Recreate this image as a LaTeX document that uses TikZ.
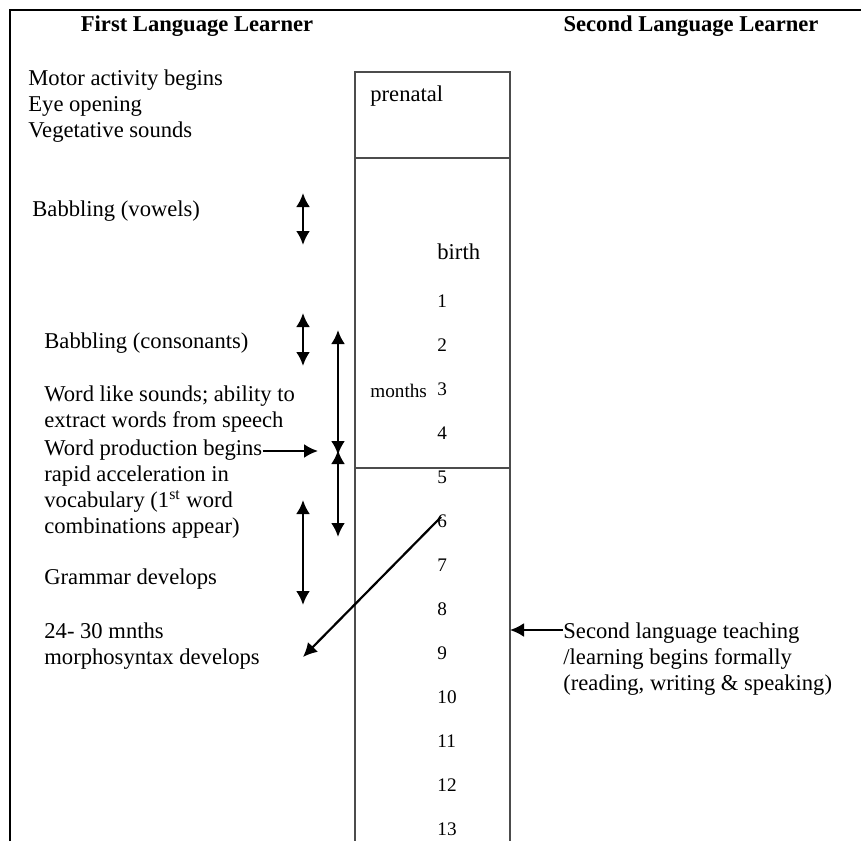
\documentclass[tikz,border=0pt]{standalone}
\usepackage{fontspec}
\setmainfont{Liberation Serif}
\usetikzlibrary{arrows.meta}
\tikzset{
  txt/.style={anchor=west,inner sep=0pt,align=left,font=\fontsize{11.3}{12.8}\selectfont},
  head/.style={inner sep=0pt,font=\fontsize{11.3}{13}\selectfont\bfseries},
  num/.style={anchor=west,inner sep=0pt,font=\fontsize{9.6}{11}\selectfont},
  col/.style={draw=black!70,line width=0.75pt},
  span/.style={{Latex[length=7pt,width=7pt]}-{Latex[length=7pt,width=7pt]},line width=1.3pt},
  pointer/.style={-{Latex[length=7pt,width=7pt]},line width=1.1pt},
}
\begin{document}
\begin{tikzpicture}[x=0.5pt,y=-0.5pt]
        \useasboundingbox (0,0) rectangle (861,841);
        \draw[line width=1pt] (10,841)--(10,10)--(861,10);

        % time column
        \draw[col] (355,72) rectangle (510,158);
        \draw[col] (355,158)--(355,841);
        \draw[col] (510,158)--(510,841);
        \draw[col] (355,468)--(510,468);
        \node[txt] (prenatal) at (370,96) {prenatal};
        \node[txt] (birth) at (437,252) {birth};
        \node[num] (months) at (370,391) {months};
        \foreach \n in {1,...,13}
            \node[num] (m\n) at (437,301+44*\n-44) {\n};

        % headings
        \node[head] (first) at (197,26) {First Language Learner};
        \node[head] (second) at (691,26) {Second Language Learner};

        % first language learner
        \node[txt] (motor) at (28,106) {Motor activity begins\\Eye opening\\Vegetative sounds};
        \node[txt] (vowels) at (32,211) {Babbling (vowels)};
        \node[txt] (cons) at (44,343) {Babbling (consonants)};
        \node[txt] (wordlike) at (44,409) {Word like sounds; ability to\\extract words from speech};
        \node[txt] (wprod) at (44,450) {Word production begins};
        \node[txt] (rapid) at (44,502) {rapid acceleration in\\vocabulary (1\textsuperscript{st} word\\combinations appear)};
        \node[txt] (grammar) at (44,579) {Grammar develops};
        \node[txt] (morph) at (44,646) {24- 30 mnths\\morphosyntax develops};

        % second language learner
        \node[txt] (slt) at (563,659) {Second language teaching\\/learning begins formally\\(reading, writing \& speaking)};

        \coordinate (v1) at (303,193); \coordinate (v2) at (303,245);
        \coordinate (c1) at (303,313); \coordinate (c2) at (303,366);
        \coordinate (w1) at (338,330); \coordinate (w2) at (338,455);
        \coordinate (r1) at (338,450); \coordinate (r2) at (338,537);
        \coordinate (g1) at (303,500); \coordinate (g2) at (303,605);
        \coordinate (wp) at (318,451);
        \coordinate (six) at (441,517);
        \coordinate (ms) at (303,657);
        \coordinate (sl) at (563,630);
        \coordinate (edge) at (510,630);

        \draw[span] (v1)--(v2);
        \draw[span] (c1)--(c2);
        \draw[span] (w1)--(w2);
        \draw[span] (r1)--(r2);
        \draw[span] (g1)--(g2);
        \draw[pointer] (wprod.east |- wp)--(wp);
        \draw[pointer] (six)--(ms);
        \draw[pointer] (sl)--(edge);
\end{tikzpicture}
\end{document}
